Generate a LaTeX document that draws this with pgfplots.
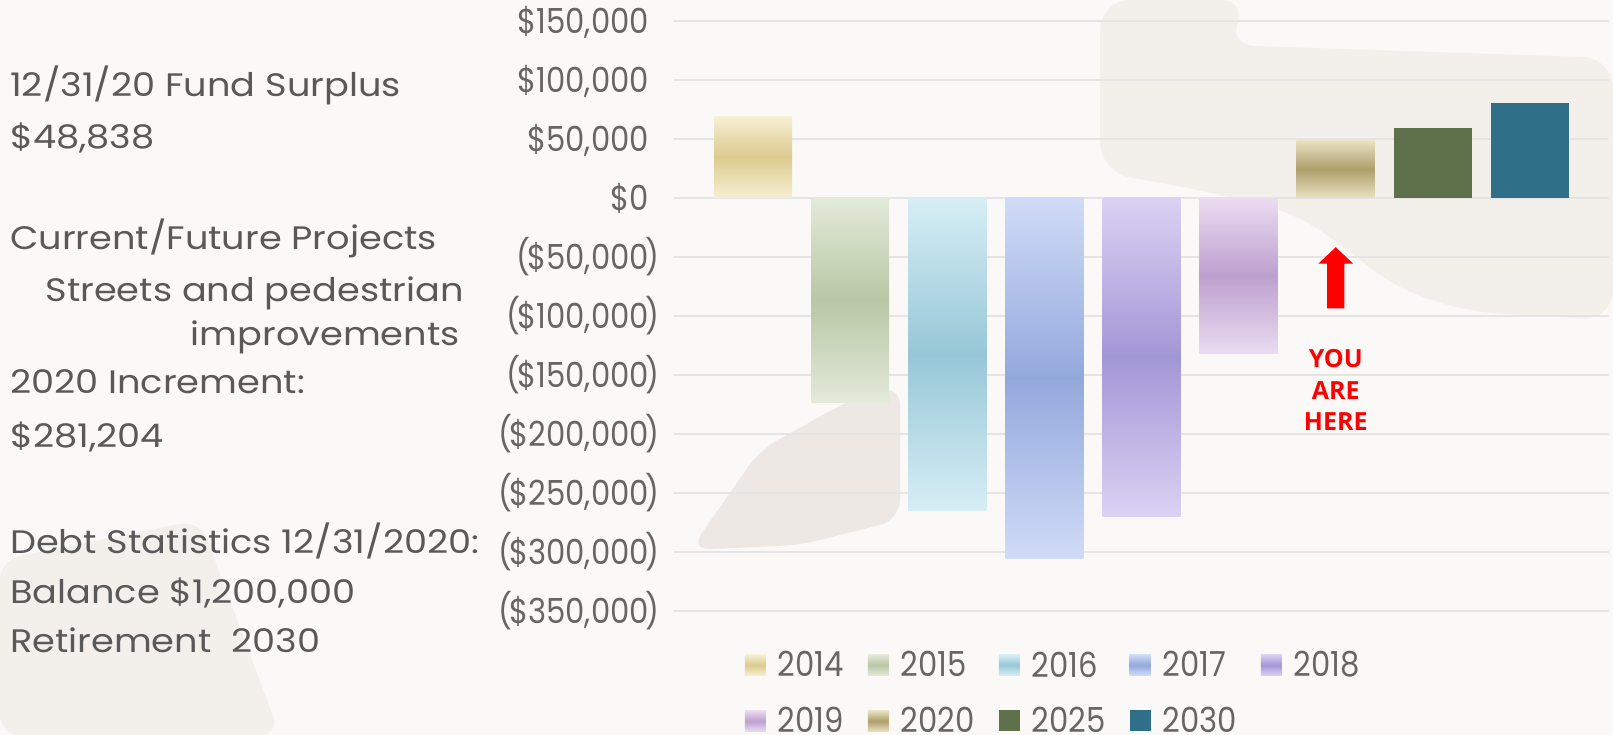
\documentclass[border=0pt]{standalone}
\usepackage{pgfplots}
\pgfplotsset{compat=1.18}
\usepackage{fontspec}
\setmainfont{Poppins}
\newfontfamily\leftfont[FakeStretch=1.13]{Poppins}
\newfontfamily\condfont[FakeStretch=0.89]{Poppins}
\newfontfamily\herefont{Open Sans}
\newcommand{\lp}{(\kern-3pt}
\newcommand{\rp}{\kern-3pt)}
\newcommand{\pp}{\phantom{\kern-3pt)}}
\definecolor{bgc}{HTML}{FAF9F7}
\definecolor{bgshape}{HTML}{F3F0EC}
\definecolor{bgdark}{HTML}{EDE8E3}
\definecolor{txt}{HTML}{595959}
\definecolor{tickc}{HTML}{666666}
\definecolor{gridc}{HTML}{E4E4E4}
\definecolor{cAl}{HTML}{F6EFD3}\definecolor{cAd}{HTML}{DCCB8F}
\definecolor{cBl}{HTML}{E3EAD9}\definecolor{cBd}{HTML}{B8C7A5}
\definecolor{cCl}{HTML}{D6EEF5}\definecolor{cCd}{HTML}{97C7D7}
\definecolor{cDl}{HTML}{D0DBF7}\definecolor{cDd}{HTML}{93A8DC}
\definecolor{cEl}{HTML}{DAD2F3}\definecolor{cEd}{HTML}{A297D6}
\definecolor{cFl}{HTML}{EADCF1}\definecolor{cFd}{HTML}{BDA0CE}
\definecolor{cGl}{HTML}{E9E1C2}\definecolor{cGd}{HTML}{AE9F6B}
\definecolor{cH}{HTML}{5F714A}
\definecolor{cI}{HTML}{2F6F87}
\pgfplotsset{mybar/.style={ybar, bar width=78pt, bar shift=0pt, draw=none}}
\begin{document}
\begin{tikzpicture}[x=1pt,y=1pt]
\useasboundingbox (0,0) rectangle (1613,735);
\fill[bgc] (0,0) rectangle (1613,735);
\fill[bgshape, rounded corners=30pt] (1100,735) -- (1250,735) -- (1225,690) -- (1613,677) -- (1613,415) -- (1470,423) -- (1400,445) -- (1300,520) -- (1200,545) -- (1100,563) -- cycle;
\fill[bgdark, rounded corners=20pt] (690,185) -- (760,285) -- (850,335) -- (900,350) -- (900,215) -- (800,190) -- cycle;
\fill[bgshape, rounded corners=20pt] (0,175) -- (200,215) -- (280,0) -- (0,0) -- cycle;
\begin{scope}[every node/.style={anchor=base west, inner sep=0pt, text=txt, font=\leftfont\fontsize{32.5}{32.5}\selectfont}]
\node at (10,638.3) {12/31/20 Fund Surplus};
\node at (10,586) {\$48,838};
\node at (10,485) {Current/Future Projects};
\node[anchor=base east] at (464,433) {Streets and pedestrian};
\node[anchor=base east] at (460,389.4) {improvements};
\node at (10,341) {2020 Increment:};
\node at (10,287.5) {\$281,204};
\node at (10,181.6) {Debt Statistics 12/31/2020:};
\node at (10,131) {Balance \$1,200,000};
\node at (10,82) {Retirement\ \ 2030};
\end{scope}
\begin{axis}[
  at={(674pt,124pt)}, anchor=south west,
  scale only axis, width=935pt, height=590pt,
  xmin=-0.814, xmax=8.814, ymin=-350000, ymax=150000,
  axis line style={draw=none},
  major tick length=0pt,
  xtick=\empty,
  scaled y ticks=false,
  ytick={-350000,-300000,-250000,-200000,-150000,-100000,-50000,0,50000,100000,150000},
  yticklabels={{\lp\$350,000\rp},{\lp\$300,000\rp},{\lp\$250,000\rp},{\lp\$200,000\rp},{\lp\$150,000\rp},{\lp\$100,000\rp},{\lp\$50,000\rp},{\$0\pp},{\$50,000\pp},{\$100,000\pp},{\$150,000\pp}},
  yticklabel style={font=\condfont\fontsize{34.5}{34.5}\selectfont, text=tickc, inner sep=0pt, anchor=east, xshift=-14pt},
  ymajorgrids, grid style={draw=gridc, line width=1.5pt},
  clip=false,
  legend columns=5,
  legend cell align=left,
  legend image code/.code={\path[#1, draw=none] (0pt,-10.5pt) rectangle (21pt,10.5pt);},
  legend style={draw=none, fill=none, at={(axis description cs:0.0755,-0.065)}, anchor=north west,
    font=\condfont\fontsize{34.5}{34.5}\selectfont, text=tickc, inner sep=0pt, row sep=25pt,
    /tikz/every odd column/.append style={column sep=10pt},
    /tikz/every even column/.append style={column sep=22pt}},
]
\addplot[mybar, top color=cAl, bottom color=cAl, middle color=cAd] coordinates {(0,69400)};
\addlegendentry{2014}
\addplot[mybar, top color=cBl, bottom color=cBl, middle color=cBd] coordinates {(1,-173100)};
\addlegendentry{2015}
\addplot[mybar, top color=cCl, bottom color=cCl, middle color=cCd] coordinates {(2,-265200)};
\addlegendentry{2016}
\addplot[mybar, top color=cDl, bottom color=cDl, middle color=cDd] coordinates {(3,-305200)};
\addlegendentry{2017}
\addplot[mybar, top color=cEl, bottom color=cEl, middle color=cEd] coordinates {(4,-269500)};
\addlegendentry{2018}
\addplot[mybar, top color=cFl, bottom color=cFl, middle color=cFd] coordinates {(5,-132100)};
\addlegendentry{2019}
\addplot[mybar, top color=cGl, bottom color=cGl, middle color=cGd] coordinates {(6,48838)};
\addlegendentry{2020}
\addplot[mybar, fill=cH] coordinates {(7,59400)};
\addlegendentry{2025}
\addplot[mybar, fill=cI] coordinates {(8,80500)};
\addlegendentry{2030}
\fill[red] (axis cs:6.09,-93500) -- (axis cs:6.09,-55700) -- (axis cs:6.18,-55700) -- (axis cs:6,-41700) -- (axis cs:5.82,-55700) -- (axis cs:5.91,-55700) -- (axis cs:5.91,-93500) -- cycle;
\node[anchor=base, inner sep=0pt, font=\herefont\bfseries\fontsize{25}{25}\selectfont, text=red] at (axis cs:6,-143300) {YOU};
\node[anchor=base, inner sep=0pt, font=\herefont\bfseries\fontsize{25}{25}\selectfont, text=red] at (axis cs:6,-170400) {ARE};
\node[anchor=base, inner sep=0pt, font=\herefont\bfseries\fontsize{25}{25}\selectfont, text=red] at (axis cs:6,-197400) {HERE};
\end{axis}
\end{tikzpicture}
\end{document}
